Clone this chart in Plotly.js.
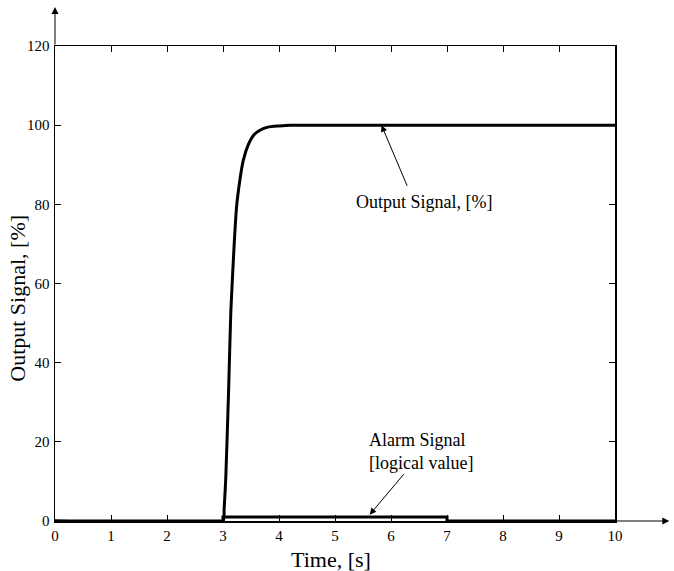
<!DOCTYPE html>
<html>
<head>
<meta charset="utf-8">
<script src="https://cdn.plot.ly/plotly-3.0.1.min.js"></script>
<style>html,body{margin:0;padding:0;background:#fff;}#chart{width:674px;height:571px;}</style>
</head>
<body>
<div id="chart"></div>
<script>
// Output signal
var outputTime  = [0, 3.0, 3.02, 3.05, 3.1, 3.14, 3.2, 3.24, 3.3, 3.36, 3.45, 3.55, 3.66, 3.8, 4.0, 4.2, 10];
var outputValue = [0, 0,   3,    11,   33,  53,   70,  79,   86,  91,   95,   97.5, 98.7, 99.5, 99.8, 100, 100];
// Alarm signal (logical value)
var alarmTime  = [0, 3, 3, 7, 7, 10];
var alarmValue = [0, 0, 1, 1, 0, 0];
var xTicks = [0,1,2,3,4,5,6,7,8,9,10];
var yTicks = [0,20,40,60,80,100,120];
var xTitle = 'Time, [s]';
var yTitle = 'Output Signal, [%]';

var font = {family: 'Liberation Serif, Times New Roman, serif', color: '#000'};

var traces = [
  {x: outputTime, y: outputValue, mode: 'lines', line: {color: '#000', width: 3, shape: 'spline', smoothing: 0.5}, hoverinfo: 'skip'},
  {x: alarmTime, y: alarmValue, mode: 'lines', line: {color: '#000', width: 3}, hoverinfo: 'skip'}
];

var layout = {
  width: 674, height: 571,
  margin: {l: 55, r: 59, t: 46, b: 50},
  paper_bgcolor: '#fff', plot_bgcolor: '#fff',
  showlegend: false,
  font: Object.assign({size: 14}, font),
  xaxis: {
    range: [0, 10], tickvals: xTicks, ticktext: xTicks.map(String),
    ticks: 'inside', ticklen: 6, tickcolor: '#000', tickwidth: 1,
    showline: true, linecolor: '#000', linewidth: 1.5, mirror: 'ticks',
    showgrid: false, zeroline: false,
    tickfont: Object.assign({size: 15}, font)
  },
  yaxis: {
    range: [0, 120], tickvals: yTicks, ticktext: yTicks.map(String),
    ticks: 'inside', ticklen: 6, tickcolor: '#000', tickwidth: 1,
    showline: true, linecolor: '#000', linewidth: 1.5, mirror: 'ticks',
    showgrid: false, zeroline: false, ticklabelstandoff: 1,
    tickfont: Object.assign({size: 15}, font)
  },
  annotations: [
    // axis titles
    {xref: 'paper', yref: 'paper', x: 0.493, y: -0.082, xanchor: 'center', yanchor: 'middle', text: xTitle, showarrow: false, font: Object.assign({size: 22}, font)},
    {xref: 'paper', yref: 'paper', x: -0.066, y: 0.468, xanchor: 'center', yanchor: 'middle', textangle: -90, text: yTitle, showarrow: false, font: Object.assign({size: 22}, font)},
    // axis arrows
    {xref: 'paper', yref: 'paper', x: 0, y: 1.082, ax: 0, ay: 39, text: '', showarrow: true, arrowhead: 2, arrowsize: 1.4, arrowwidth: 1, arrowcolor: '#000'},
    {xref: 'paper', yref: 'paper', x: 1.097, y: 0, ax: -55, ay: 0, text: '', showarrow: true, arrowhead: 2, arrowsize: 1.4, arrowwidth: 1, arrowcolor: '#000'},
    // Output signal label
    {xref: 'x', yref: 'y', x: 5.83, y: 100, axref: 'x', ayref: 'y', ax: 6.3, ay: 84.3, text: '', showarrow: true, arrowhead: 2, arrowsize: 1.3, arrowwidth: 1, arrowcolor: '#000'},
    {xref: 'x', yref: 'y', x: 6.6, y: 80.5, text: 'Output Signal, [%]', showarrow: false, font: Object.assign({size: 18}, font)},
    // Alarm signal label
    {xref: 'x', yref: 'y', x: 5.62, y: 1.6, axref: 'x', ayref: 'y', ax: 6.25, ay: 12.2, text: '', showarrow: true, arrowhead: 2, arrowsize: 1.3, arrowwidth: 1, arrowcolor: '#000'},
    {xref: 'x', yref: 'y', x: 5.57, y: 17.6, xanchor: 'left', align: 'left', text: 'Alarm Signal<br>[logical value]', showarrow: false, font: Object.assign({size: 18}, font)}
  ]
};

Plotly.newPlot('chart', traces, layout, {displayModeBar: false, staticPlot: true});
</script>
</body>
</html>
